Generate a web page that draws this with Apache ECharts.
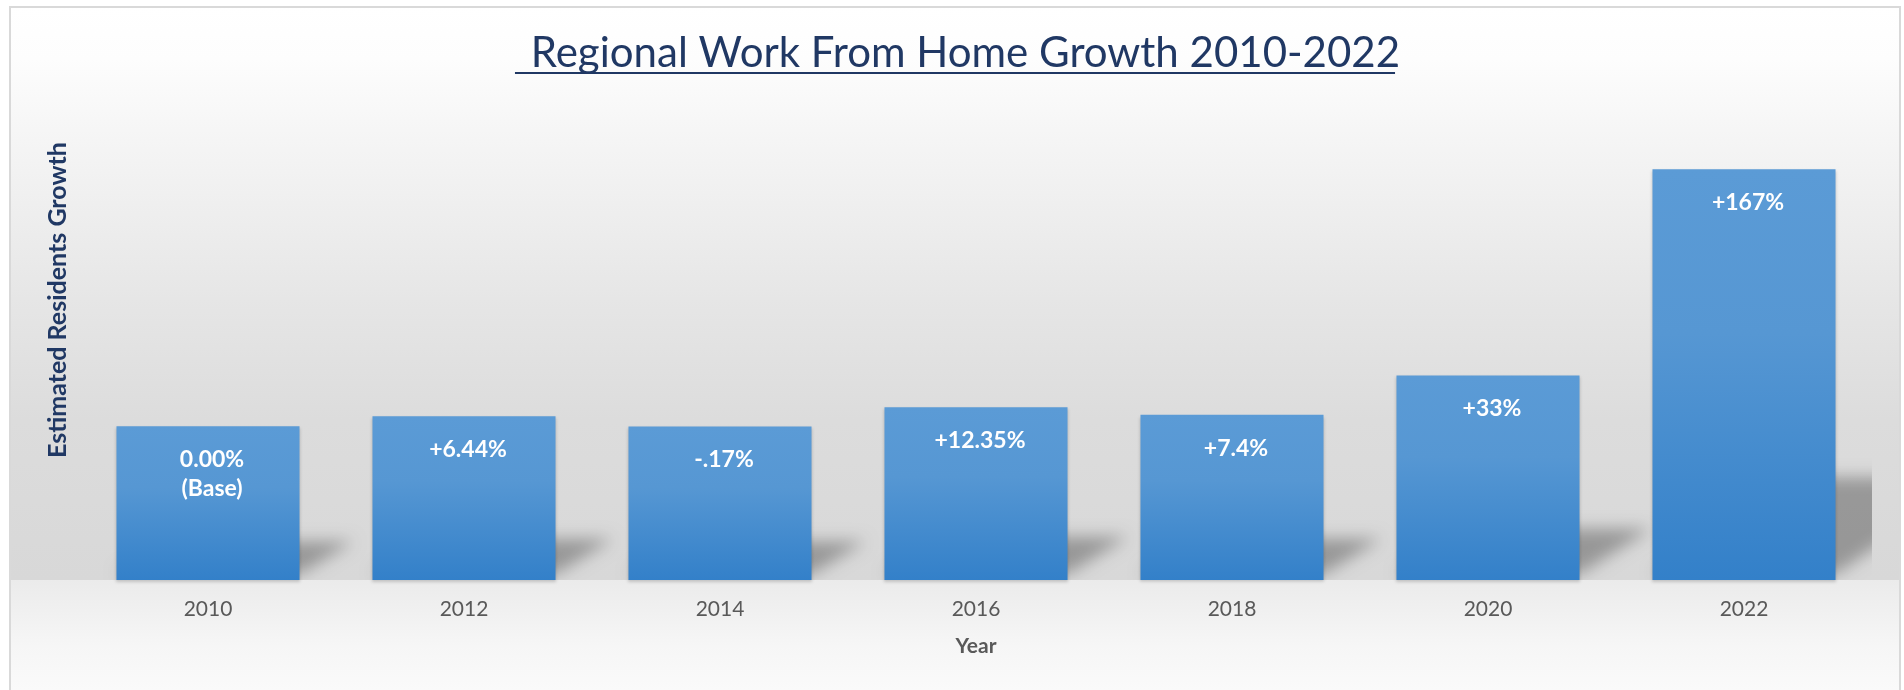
<!DOCTYPE html>
<html>
<head>
<meta charset="utf-8">
<title>Regional Work From Home Growth 2010-2022</title>
<script src="https://cdn.jsdelivr.net/npm/echarts@6/dist/echarts.min.js"></script>
<style>
  html, body { margin: 0; padding: 0; background: #ffffff; }
  #chart { width: 1904px; height: 690px; }
</style>
</head>
<body>
<div id="chart"></div>
<script>
  // estimated residents, indexed so that 2010 = 100
  var years = ['2010', '2012', '2014', '2016', '2018', '2020', '2022']
  var residents = [100, 106.44, 99.83, 112.35, 107.4, 133, 267]
  var growthLabels = ['0.00%\n(Base)', '+6.44%', '-.17%', '+12.35%', '+7.4%', '+33%', '+167%']

  var titleText = ' Regional Work From Home Growth 2010-2022'
  var font = 'Lato, "Open Sans", sans-serif'

  var chart = echarts.init(document.getElementById('chart'))

  // measure title so the underline fits it
  var ctx = document.createElement('canvas').getContext('2d')
  ctx.font = '42px ' + font
  var titleWidth = ctx.measureText(titleText).width
  var titleCenter = 955

  // shapes are drawn far off to the left, only their blurred shadow lands on the chart
  var SHIFT = 4000

  chart.setOption({
    animation: false,
    graphic: [
      {
        type: 'rect', z: -10, silent: true,
        shape: { x: 10, y: 7, width: 1890, height: 573 },
        style: {
          fill: new echarts.graphic.LinearGradient(0, 0, 0, 1, [
            { offset: 0, color: '#ffffff' },
            { offset: 0.09, color: '#fdfdfd' },
            { offset: 0.25, color: '#f4f4f4' },
            { offset: 0.51, color: '#e6e6e6' },
            { offset: 0.72, color: '#dcdcdc' },
            { offset: 1, color: '#d8d8d8' }
          ])
        }
      },
      {
        type: 'rect', z: -10, silent: true,
        shape: { x: 10, y: 580, width: 1890, height: 110 },
        style: {
          fill: new echarts.graphic.LinearGradient(0, 0, 0, 1, [
            { offset: 0, color: '#ebebeb' },
            { offset: 0.6, color: '#f6f6f6' },
            { offset: 1, color: '#fafafa' }
          ])
        }
      },
      {
        type: 'polyline', z: -9, silent: true,
        shape: { points: [[10, 690], [10, 7], [1900, 7], [1900, 690]] },
        style: { stroke: '#d9d9d9', lineWidth: 2, fill: null }
      },
      {
        type: 'line', z: 5, silent: true,
        shape: { x1: titleCenter - titleWidth / 2, y1: 73, x2: titleCenter + titleWidth / 2, y2: 73 },
        style: { stroke: '#203864', lineWidth: 2 }
      }
    ],
    title: {
      text: titleText,
      left: titleCenter,
      textAlign: 'center',
      top: 27,
      textStyle: {
        fontFamily: font,
        fontSize: 42,
        fontWeight: 'normal',
        color: '#203864'
      }
    },
    grid: {
      left: 80,
      right: 32,
      top: 20,
      bottom: 110
    },
    xAxis: {
      type: 'category',
      data: years,
      name: 'Year',
      nameLocation: 'middle',
      nameGap: 56,
      nameTextStyle: {
        fontFamily: font,
        fontSize: 21,
        fontWeight: 'bold',
        color: '#595959'
      },
      axisLine: { show: false },
      axisTick: { show: false },
      axisLabel: {
        margin: 19,
        fontFamily: font,
        fontSize: 21,
        color: '#595959'
      }
    },
    yAxis: {
      type: 'value',
      min: 0,
      max: 364,
      name: 'Estimated Residents Growth',
      nameLocation: 'middle',
      nameRotate: 90,
      nameGap: 10,
      nameTextStyle: {
        fontFamily: font,
        fontSize: 25,
        fontWeight: 'bold',
        color: '#203864'
      },
      axisLine: { show: false },
      axisTick: { show: false },
      axisLabel: { show: false },
      splitLine: { show: false }
    },
    series: [
      {
        // perspective floor shadow behind each bar
        type: 'custom',
        z: 1,
        silent: true,
        clip: true,
        data: residents.map(function (v, i) { return [i, v] }),
        renderItem: function (params, api) {
          var idx = api.value(0)
          var base = api.coord([idx, 0])
          var top = api.coord([idx, api.value(1)])
          var w = api.size([1, 0])[0] * 0.715
          var h = base[1] - top[1]
          var L = base[0] - w / 2 - SHIFT
          var R = L + w
          var B = base[1]
          var dx = h * 0.35
          var dy = h * 0.25
          return {
            type: 'polygon',
            shape: { points: [[L, B - 6], [R, B - 6], [R + dx, B - dy], [L + dx, B - dy]] },
            style: {
              fill: '#000000',
              shadowBlur: 16,
              shadowOffsetX: SHIFT,
              shadowColor: 'rgba(0,0,0,0.3)'
            }
          }
        }
      },
      {
        type: 'bar',
        z: 3,
        data: residents,
        barCategoryGap: '28.5%',
        itemStyle: {
          color: new echarts.graphic.LinearGradient(0, 0, 0, 1, [
            { offset: 0, color: '#5b9bd6' },
            { offset: 0.4, color: '#5697d3' },
            { offset: 1, color: '#3380c9' }
          ]),
          shadowColor: 'rgba(0,0,0,0.18)',
          shadowBlur: 3,
          shadowOffsetY: 2
        },
        label: {
          show: true,
          position: 'insideTop',
          distance: 19,
          offset: [4, 0],
          fontFamily: font,
          fontSize: 23,
          fontWeight: 'bold',
          lineHeight: 29,
          color: '#ffffff',
          formatter: function (p) { return growthLabels[p.dataIndex] }
        }
      }
    ]
  })
</script>
</body>
</html>
